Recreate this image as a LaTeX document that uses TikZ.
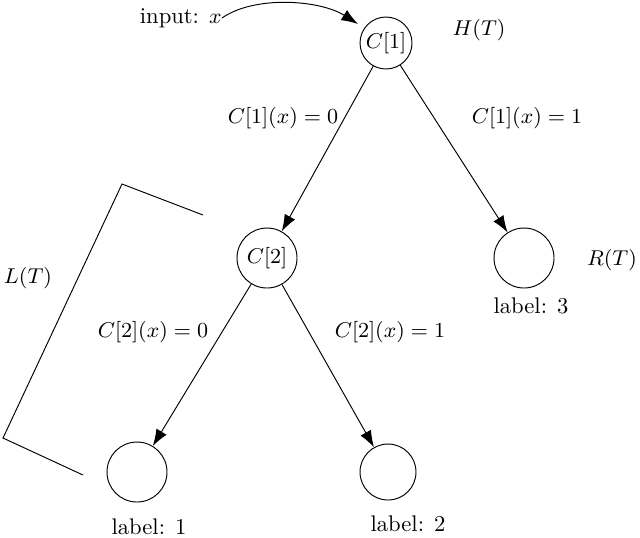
\documentclass[tikz,border=0pt]{standalone}
\usetikzlibrary{arrows.meta}
\begin{document}
\begin{tikzpicture}[x=0.42pt,y=-0.42pt,line width=0.4pt,
  every node/.append style={font=\fontsize{9.5}{11}\selectfont},
  nd/.style={circle,draw,inner sep=0pt},
  arr/.style={-{Latex[length=7pt,width=5pt]}},
  lbl/.style={inner sep=0pt}]
\useasboundingbox (0,0) rectangle (640,537);
\node[nd,minimum size=52*0.42pt] (c1) at (386,43) {$C[1]$};
\node[nd,minimum size=60*0.42pt] (c2) at (267,258) {$C[2]$};
\node[nd,minimum size=60*0.42pt] (r) at (524,258) {};
\node[nd,minimum size=60*0.42pt] (bl) at (137,472) {};
\node[nd,minimum size=56*0.42pt] (bm) at (388,472) {};
\draw[arr] (c1) -- (c2);
\draw[arr] (c1) -- (r);
\draw[arr] (c2) -- (bl);
\draw[arr] (c2) -- (bm);
\node[lbl] (l1) at (283,118) {$C[1](x)=0$};
\node[lbl] (l2) at (527,118) {$C[1](x)=1$};
\node[lbl] (l3) at (153,332) {$C[2](x)=0$};
\node[lbl] (l4) at (390,332) {$C[2](x)=1$};
\node[lbl] (h) at (479,30) {$H(T)$};
\node[lbl] (rt) at (612,260) {$R(T)$};
\node[lbl] (lt) at (28,278) {$L(T)$};
\node[lbl] (t3) at (531,306) {label: 3};
\node[lbl] (t1) at (149,527) {label: 1};
\node[lbl] (t2) at (408,524) {label: 2};
\node[lbl,anchor=east] (in) at (222,18) {input: $x$};
\coordinate (ae) at (358,24);
\draw[arr] (in.east) .. controls (255,-5) and (320,0) .. (ae);
\draw (203,215) -- (122,184) -- (3,438) -- (83,475);
\end{tikzpicture}
\end{document}
